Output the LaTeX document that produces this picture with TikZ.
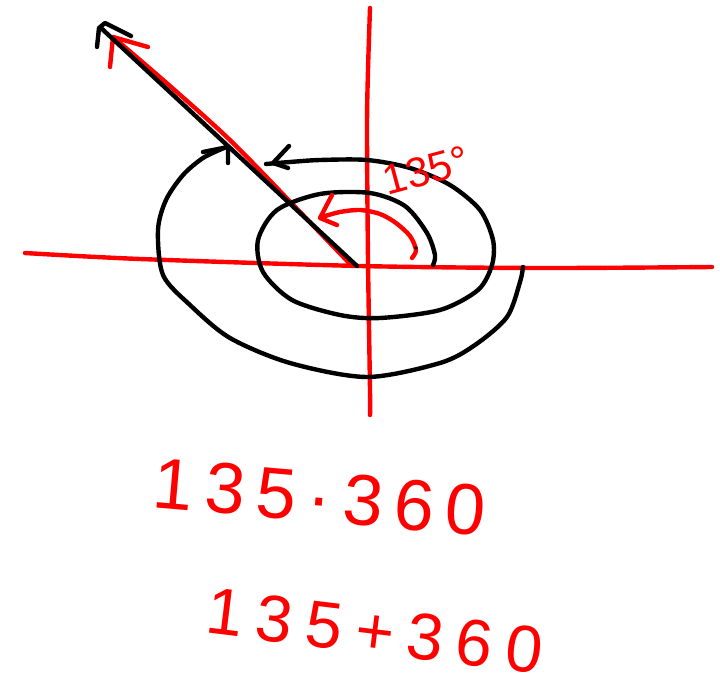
\documentclass[tikz,border=0pt]{standalone}
\usepackage{fontspec}
\setmainfont{Liberation Sans}
\newfontfamily\handa[LetterSpace=16]{Liberation Sans}
\newfontfamily\handb[LetterSpace=20]{Liberation Sans}
\usetikzlibrary{calc}
\begin{document}
\begin{tikzpicture}[x=1pt,y=-1pt,
  redpen/.style={draw=red,line width=4.4pt,line cap=round,line join=round},
  blackpen/.style={draw=black,line width=4.4pt,line cap=round,line join=round},
  redtext/.style={text=red,inner sep=0pt}]
\useasboundingbox (0,0) rectangle (720,690);
% axes
\draw[redpen] plot[smooth] coordinates {(25,253) (140,259) (360,266) (540,268) (712,267)};
\draw[redpen] plot[smooth] coordinates {(370,8) (368,70) (367,130) (368,260) (370,390) (370,415)};
% red ray and tip
\draw[redpen] plot[smooth] coordinates {(352,266) (300,212) (232,142) (170,86) (113,37)};
\draw[redpen] (110,67) -- (113,37) -- (148,47);
% black ray and tip
\draw[blackpen] (357,266) -- (101,28);
\draw[blackpen] (97,47) -- (99,28) -- (105,23) -- (131,36);
% inner spiral
\draw[blackpen] plot[smooth] coordinates {(433,265) (435,255) (427,233) (405,206) (370,193) (320,194) (277,210) (258,240) (263,272) (292,300) (340,315) (380,318) (440,310) (478,290) (492,265) (493,240) (480,210) (450,185) (410,168) (367,160) (320,160) (290,162) (266,164)};
\draw[blackpen] (289,146) -- (273,163) -- (288,168);
% outer spiral
\draw[blackpen] plot[smooth] coordinates {(523,267) (520,282) (507,317) (475,345) (440,363) (367,377) (290,363) (230,338) (190,305) (163,275) (158,230) (166,200) (183,175) (203,158) (224,148)};
\draw[blackpen] (203,152) -- (228,147) -- (228,163);
% red arc
\draw[redpen] plot[smooth] coordinates {(412,258) (416,250) (410,236) (396,223) (380,214) (360,210) (340,212) (322,217)};
\draw[redpen] (332,195) -- (320,218) -- (337,225);
\fill (416,248) circle (1.8pt);
% labels
\node[redtext,rotate=15,font=\fontsize{42}{42}\selectfont] (ang) at (426,170) {135°};
\node[redtext,rotate=-5,font=\handa\fontsize{72}{72}\selectfont] (eqa) at (320,497) {135·360};
\node[redtext,rotate=-7,font=\handb\fontsize{66}{66}\selectfont] (eqb) at (375,631) {135+360};
\end{tikzpicture}
\end{document}
